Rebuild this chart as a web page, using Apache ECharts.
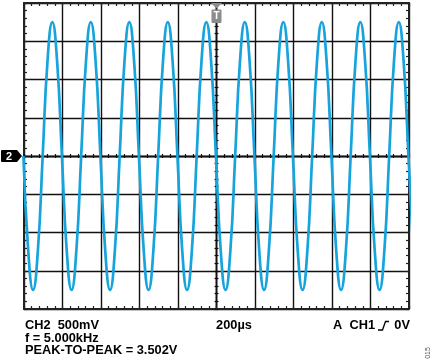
<!DOCTYPE html>
<html>
<head>
<meta charset="utf-8">
<script src="https://cdn.jsdelivr.net/npm/echarts@6/dist/echarts.min.js"></script>
<style>
html,body{margin:0;padding:0;background:#fff;}
#c{width:435px;height:362px;}
</style>
</head>
<body>
<div id="c"></div>
<script>
// Time axis (µs): 10 divisions of 200 µs
const timeMin = 0, timeMax = 2000, timeDiv = 200;
// Voltage axis (V): 8 divisions of 500 mV
const voltMin = -2, voltMax = 2, voltDiv = 0.5;

// CH2 samples (time in µs, value in V)
const timeUs = [-3,22,47,72,97,122,147,172,197,222,247,272,297,322,347,372,397,422,447,472,
  497,522,547,572,597,622,647,672,697,722,747,772,797,822,847,872,897,922,947,972,
  997,1022,1047,1072,1097,1122,1147,1172,1197,1222,1247,1272,1297,1322,1347,1372,1397,1422,1447,1472,
  1497,1522,1547,1572,1597,1622,1647,1672,1697,1722,1747,1772,1797,1822,1847,1872,1897,1922,1947,1972,
  1997,2022];
const ch2Volts = [0,-1.238,-1.751,-1.238,0,1.238,1.751,1.238,
  0,-1.238,-1.751,-1.238,0,1.238,1.751,1.238,
  0,-1.238,-1.751,-1.238,0,1.238,1.751,1.238,
  0,-1.238,-1.751,-1.238,0,1.238,1.751,1.238,
  0,-1.238,-1.751,-1.238,0,1.238,1.751,1.238,
  0,-1.238,-1.751,-1.238,0,1.238,1.751,1.238,
  0,-1.238,-1.751,-1.238,0,1.238,1.751,1.238,
  0,-1.238,-1.751,-1.238,0,1.238,1.751,1.238,
  0,-1.238,-1.751,-1.238,0,1.238,1.751,1.238,
  0,-1.238,-1.751,-1.238,0,1.238,1.751,1.238,
  0,-1.238];

// Readout texts
const chLabel = 'CH2  500mV';
const freqLabel = 'f = 5.000kHz';
const p2pLabel = 'PEAK-TO-PEAK = 3.502V';
const timebaseLabel = '200µs';
const trigLabelLeft = 'A  CH1';
const trigLabelRight = '0V';
const figId = '015';

const G = {left: 24, top: 3, width: 385, height: 306};
const gridColor = '#111';
const borderColor = '#222';
const traceColor = '#17a3dc';
const font = '"Liberation Sans", Arial, sans-serif';
const txtFont = 'bold 12.8px ' + font;

function edgeAxis(type, pos, idx, split){
  const isX = type === 'x';
  return {
    type: 'value', gridIndex: idx, position: pos,
    min: isX ? timeMin : voltMin, max: isX ? timeMax : voltMax,
    interval: isX ? timeDiv : voltDiv,
    axisLine: {show: true, onZero: false, lineStyle: {color: borderColor, width: 2}},
    axisTick: {show: true, inside: true, length: 3, lineStyle: {color: borderColor, width: 1.2}},
    minorTick: {show: true, splitNumber: 5, length: 3, lineStyle: {color: borderColor, width: 1.2}},
    axisLabel: {show: false},
    splitLine: {show: split, lineStyle: {color: gridColor, width: 1.4}},
    z: 1
  };
}
function centerAxis(type, idx, inside){
  const isX = type === 'x';
  return {
    type: 'value', gridIndex: idx,
    min: isX ? -timeMax/2 : voltMin, max: isX ? timeMax/2 : voltMax,
    interval: isX ? timeDiv : voltDiv,
    axisLine: {show: true, onZero: true, lineStyle: {color: gridColor, width: 1.4}},
    axisTick: {show: true, inside: inside, length: 2, lineStyle: {color: gridColor, width: 1.2}},
    minorTick: {show: true, splitNumber: 5, length: 2, lineStyle: {color: gridColor, width: 1.2}},
    axisLabel: {show: false},
    splitLine: {show: false},
    z: 1
  };
}

const chart = echarts.init(document.getElementById('c'), null, {renderer: 'canvas'});
chart.setOption({
  animation: false,
  backgroundColor: '#ffffff',
  grid: [Object.assign({}, G), Object.assign({}, G), Object.assign({}, G)],
  xAxis: [
    edgeAxis('x', 'bottom', 0, true),
    edgeAxis('x', 'top', 0, false),
    centerAxis('x', 1, true),
    centerAxis('x', 2, false)
  ],
  yAxis: [
    edgeAxis('y', 'left', 0, true),
    edgeAxis('y', 'right', 0, false),
    centerAxis('y', 1, true),
    centerAxis('y', 2, false)
  ],
  series: [{
    type: 'line',
    xAxisIndex: 0, yAxisIndex: 0,
    data: timeUs.map((t, i) => [t, ch2Volts[i]]),
    showSymbol: false,
    smooth: 0.5,
    clip: true,
    lineStyle: {color: traceColor, width: 2.7},
    z: 5,
    markPoint: {
      silent: true,
      animation: false,
      data: [
        {
          coord: [timeMin, 0],
          symbol: 'path://M1,0 L16,0 L21,6 L16,12 L1,12 Q0,12 0,11 L0,1 Q0,0 1,0 Z',
          symbolSize: [21, 12],
          symbolOffset: [-12.5, 0],
          itemStyle: {color: '#000'},
          label: {show: true, formatter: '2', color: '#fff', fontWeight: 'bold', fontSize: 11, fontFamily: font, offset: [-2.5, 0.5]}
        },
        {
          coord: [(timeMin + timeMax) / 2, voltMax],
          symbol: 'path://M0,0 L11,0 L5.5,5.5 Z M1.5,6.5 L9.5,6.5 Q10.5,6.5 10.5,7.5 L10.5,19 Q10.5,20 9.5,20 L1.5,20 Q0.5,20 0.5,19 L0.5,7.5 Q0.5,6.5 1.5,6.5 Z',
          symbolSize: [11, 20],
          symbolOffset: [0, 10],
          itemStyle: {color: '#8c8c8c'},
          label: {show: true, formatter: 'T', color: '#fff', fontWeight: 'bold', fontSize: 10, fontFamily: font, offset: [0, 3]}
        }
      ]
    }
  }],
  graphic: [
    {type: 'text', x: 25, y: 325.5, style: {text: chLabel, font: txtFont, fill: '#000', textVerticalAlign: 'middle'}},
    {type: 'text', x: 25, y: 338.5, style: {text: freqLabel, font: txtFont, fill: '#000', textVerticalAlign: 'middle'}},
    {type: 'text', x: 25, y: 350.5, style: {text: p2pLabel, font: txtFont, fill: '#000', textVerticalAlign: 'middle'}},
    {type: 'text', x: 234, y: 325.5, style: {text: timebaseLabel, font: txtFont, fill: '#000', textAlign: 'center', textVerticalAlign: 'middle'}},
    {type: 'text', x: 375, y: 325.5, style: {text: trigLabelLeft, font: txtFont, fill: '#000', textAlign: 'right', textVerticalAlign: 'middle'}},
    {type: 'polyline', shape: {points: [[378, 330], [382.5, 330], [385.5, 321.5], [389, 321.5]]}, style: {stroke: '#000', lineWidth: 1.3, fill: null}},
    {type: 'text', x: 410, y: 325.5, style: {text: trigLabelRight, font: txtFont, fill: '#000', textAlign: 'right', textVerticalAlign: 'middle'}},
    {type: 'text', x: 428, y: 353, rotation: Math.PI / 2, style: {text: figId, font: '7px ' + font, fill: '#555', textAlign: 'center', textVerticalAlign: 'middle'}}
  ]
});
</script>
</body>
</html>
